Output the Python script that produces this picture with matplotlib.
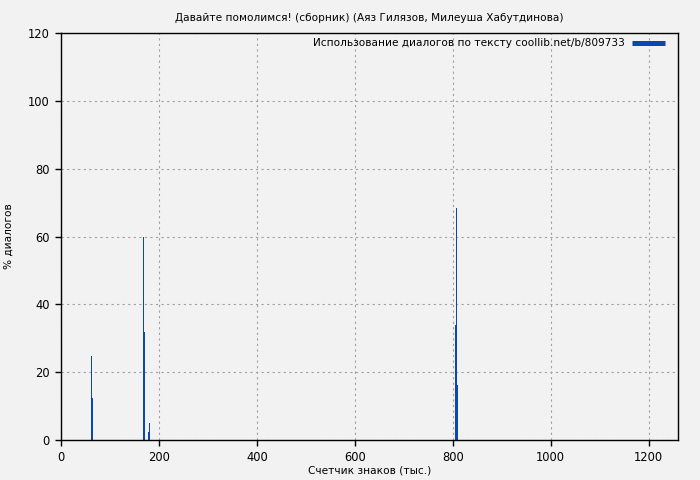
import matplotlib
matplotlib.use('Agg')
import matplotlib.pyplot as plt
from matplotlib.lines import Line2D

# counts of characters (thousands) and share of dialogue, %
positions = [61, 63, 167, 169, 177, 179, 804, 806, 808]
dialog_pct = [24.8, 12.4, 60.0, 31.9, 2.4, 5.0, 33.9, 68.4, 16.2]

title = 'Давайте помолимся! (сборник) (Аяз Гилязов, Милеуша Хабутдинова)'
legend_label = 'Использование диалогов по тексту coollib.net/b/809733'
bar_color = '#0a47b0'
bg = '#f2f2f2'

plt.rcParams['font.family'] = ['DejaVu Sans']
fs = 7.6

fig = plt.figure(figsize=(7, 4.8), dpi=100, facecolor=bg)
ax = fig.add_axes([0.0871, 0.0833, 0.8815, 0.8479], facecolor=bg)

ax.bar(positions, dialog_pct, width=2, align='edge', color=bar_color, linewidth=0)

ax.set_xlim(0, 1260)
ax.set_ylim(0, 120)
ax.set_xticks(range(0, 1201, 200))
ax.set_yticks(range(0, 121, 20))
ax.grid(True, color='#a0a0a0', linestyle=(0, (2, 3)), linewidth=0.8)
ax.set_axisbelow(True)
ax.tick_params(direction='out', length=4, width=1, color='black',
               labelsize=8.3, pad=4)
for s in ax.spines.values():
    s.set_color('black')
    s.set_linewidth(1)

ax.set_title(title, fontsize=fs, pad=9)
ax.set_xlabel('Счетчик знаков (тыс.)', fontsize=fs, labelpad=1)
ax.set_ylabel('% диалогов', fontsize=fs, labelpad=10)

handle = Line2D([0], [0], color=bar_color, lw=3.6, solid_capstyle='butt')
ax.legend([handle], [legend_label], loc='upper right', frameon=False,
          bbox_to_anchor=(0.9857, 0.997), markerfirst=False,
          handlelength=3.1, fontsize=fs, borderaxespad=0, borderpad=0.4,
          handletextpad=0.7)

fig.savefig('out.png', dpi=100, facecolor=bg)
